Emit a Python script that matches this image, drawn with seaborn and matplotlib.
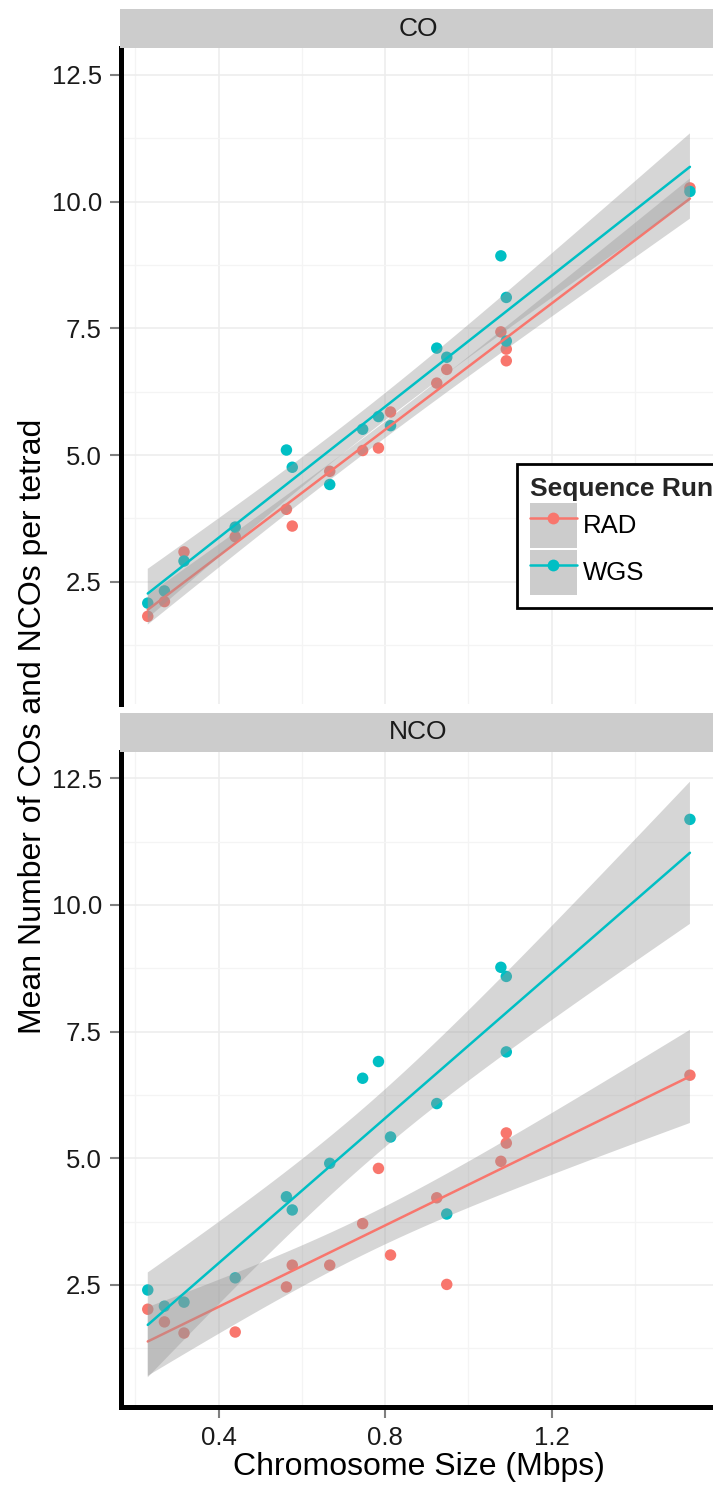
import math
import numpy as np
import pandas as pd
import matplotlib
matplotlib.use("Agg")
import matplotlib.pyplot as plt
import seaborn as sns
from matplotlib.patches import Patch
from matplotlib.lines import Line2D
from matplotlib.legend_handler import HandlerTuple
from matplotlib.ticker import MultipleLocator

# ---- data ----
chrom_size = [0.230, 0.270, 0.317, 0.440, 0.563, 0.577, 0.667, 0.746,
              0.784, 0.813, 0.924, 0.948, 1.078, 1.091, 1.091, 1.532]
co_rad = [1.82, 2.11, 3.09, 3.39, 3.93, 3.60, 4.68, 5.09,
          5.14, 5.85, 6.42, 6.69, 7.43, 7.09, 6.86, 10.27]
co_wgs = [2.08, 2.32, 2.91, 3.58, 5.10, 4.76, 4.42, 5.51,
          5.76, 5.58, 7.11, 6.93, 8.93, 8.11, 7.25, 10.20]
nco_rad = [2.02, 1.77, 1.55, 1.57, 2.46, 2.89, 2.89, 3.71,
           4.80, 3.09, 4.22, 2.51, 4.94, 5.50, 5.30, 6.64]
nco_wgs = [2.40, 2.08, 2.16, 2.64, 4.24, 3.98, 4.90, 6.58,
           6.91, 5.42, 6.08, 3.90, 8.77, 8.59, 7.10, 11.69]
event_types = ["CO", "NCO"]
runs = ["RAD", "WGS"]
y_ticks = [2.5, 5.0, 7.5, 10.0, 12.5]
x_ticks = [0.4, 0.8, 1.2]

series = {("CO", "RAD"): co_rad, ("CO", "WGS"): co_wgs,
          ("NCO", "RAD"): nco_rad, ("NCO", "WGS"): nco_wgs}
rows = []
for (t, r), vals in series.items():
    for xv, yv in zip(chrom_size, vals):
        rows.append({"type": t, "run": r, "size": xv, "value": yv})
df = pd.DataFrame(rows)

palette = {"RAD": "#F8766D", "WGS": "#00BFC4"}


def t_quantile(p, nu):
    """Student-t quantile by bisection on a numerically integrated pdf."""
    c = math.gamma((nu + 1) / 2) / (math.sqrt(nu * math.pi) * math.gamma(nu / 2))

    def cdf(t):
        g = np.linspace(0, t, 4001)
        return 0.5 + np.trapezoid(c * (1 + g ** 2 / nu) ** (-(nu + 1) / 2), g)

    lo, hi = 0.0, 20.0
    for _ in range(60):
        mid = (lo + hi) / 2
        if cdf(mid) < p:
            lo = mid
        else:
            hi = mid
    return (lo + hi) / 2


def lm_band(x, y, grid, level=0.95):
    """Confidence band of a linear fit (same as ggplot's geom_smooth(lm))."""
    x = np.asarray(x, float)
    y = np.asarray(y, float)
    n = len(x)
    b, a = np.polyfit(x, y, 1)
    resid = y - (a + b * x)
    s = math.sqrt(np.sum(resid ** 2) / (n - 2))
    sxx = np.sum((x - x.mean()) ** 2)
    se = s * np.sqrt(1 / n + (grid - x.mean()) ** 2 / sxx)
    tq = t_quantile(0.5 + level / 2, n - 2)
    fit = a + b * grid
    return fit - tq * se, fit + tq * se


sns.set_theme(style="white")
plt.rcParams["font.family"] = ["Liberation Sans", "DejaVu Sans"]

W, H = 713, 1488
fig = plt.figure(figsize=(W / 100, H / 100), dpi=100)


def fr(x0, y0, x1, y1):
    return [x0 / W, 1 - y1 / H, (x1 - x0) / W, (y1 - y0) / H]


AX_L, AX_R = 120.7, 717
panels = {"CO": (48, 704), "NCO": (751.5, 1407)}
strips = {"CO": (9, 48), "NCO": (713, 751.5)}
TXT = "#1A1A1A"

axes = {}
for t in event_types:
    top, bot = panels[t]
    ax = fig.add_axes(fr(AX_L, top, AX_R, bot))
    axes[t] = ax
    ax.set_facecolor("white")
    sub = df[df["type"] == t]

    sns.scatterplot(data=sub, x="size", y="value", hue="run", palette=palette,
                    hue_order=runs, s=68, linewidth=0, alpha=1, ax=ax,
                    legend=False, zorder=1)
    for i, r in enumerate(runs):
        g = sub[sub["run"] == r]
        grid = np.linspace(g["size"].min(), g["size"].max(), 200)
        lo, hi = lm_band(g["size"], g["value"], grid)
        ax.fill_between(grid, lo, hi, facecolor="#999999", alpha=0.4,
                        edgecolor="none", zorder=1.1 + i * 0.2)
        sns.regplot(data=g, x="size", y="value", ax=ax, scatter=False,
                    color=palette[r], ci=None, truncate=True,
                    line_kws=dict(lw=1.8, zorder=1.2 + i * 0.2))

    ax.set_xlim(0.165, 1.597)
    ax.set_ylim(0.09, 13.03)
    ax.set_xticks(x_ticks)
    ax.set_yticks(y_ticks)
    ax.set_yticklabels([f"{v:.1f}" for v in y_ticks])
    ax.xaxis.set_minor_locator(MultipleLocator(0.2))
    ax.yaxis.set_minor_locator(MultipleLocator(1.25))
    ax.set_axisbelow(True)
    ax.grid(which="major", color="#EDEDED", lw=1.2)
    ax.grid(which="minor", color="#F4F4F4", lw=0.9)
    ax.set_xlabel("")
    ax.set_ylabel("")

    for s in ["top", "right"]:
        ax.spines[s].set_visible(False)
    ax.spines["left"].set_color("black")
    ax.spines["left"].set_linewidth(3.6)
    ax.tick_params(axis="y", which="major", left=True, direction="out",
                   length=8, width=1.5, color="#7F7F7F", labelsize=18.5,
                   labelcolor=TXT, pad=5.5)
    ax.tick_params(which="minor", length=0)
    if t == "NCO":
        ax.spines["bottom"].set_color("black")
        ax.spines["bottom"].set_linewidth(3.6)
        ax.set_xticklabels([f"{v:.1f}" for v in x_ticks])
        ax.tick_params(axis="x", which="major", bottom=True, direction="out",
                       length=8, width=1.5, color="#7F7F7F", labelsize=18.5,
                       labelcolor=TXT, pad=6)
    else:
        ax.spines["bottom"].set_visible(False)
        ax.tick_params(axis="x", which="both", bottom=False, labelbottom=False)

    # facet strip
    s_top, s_bot = strips[t]
    sax = fig.add_axes(fr(120, s_top, AX_R, s_bot))
    sax.set_facecolor("#CCCCCC")
    sax.set_xticks([])
    sax.set_yticks([])
    for s in sax.spines.values():
        s.set_visible(False)
    sax.text(0.5, 0.5, t, ha="center", va="center", fontsize=19, color=TXT,
             transform=sax.transAxes)

# axis titles
fig.text(418.9 / W, 1 - 1467 / H, "Chromosome Size (Mbps)", ha="center",
         va="center", fontsize=23, color="black")
fig.text(33 / W, 1 - 726.5 / H, "Mean Number of COs and NCOs per tetrad",
         rotation=90, ha="center", va="center", fontsize=23, color="black")

# legend
handles = [(Patch(facecolor="#CCCCCC", edgecolor="none"),
            Line2D([], [], color=palette[r], marker="o", markersize=8.5,
                   lw=1.8, markeredgewidth=0)) for r in runs]
leg = axes["CO"].legend(handles, runs,
                        handler_map={tuple: HandlerTuple(ndivide=1, pad=0)},
                        title="Sequence Run", loc="upper left",
                        bbox_to_anchor=(517 / W, 1 - 464 / H),
                        bbox_transform=fig.transFigure, frameon=True,
                        fancybox=False, edgecolor="black", framealpha=1,
                        fontsize=18.5,
                        title_fontproperties={"weight": "bold", "size": 19},
                        handlelength=1.83, handleheight=2.32,
                        handletextpad=0.25, labelspacing=0.08, borderpad=0.5,
                        borderaxespad=0, alignment="left")
leg.get_frame().set_linewidth(2.0)
for txt in leg.get_texts():
    txt.set_color("black")

fig.savefig("out.png", dpi=100)
